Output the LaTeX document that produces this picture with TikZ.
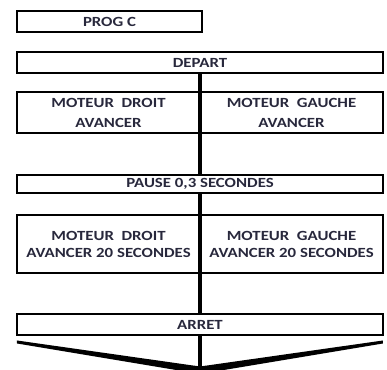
\documentclass[tikz,border=0pt]{standalone}
\usepackage{fontspec}
\newfontfamily\boxfont[FakeStretch=1.2]{Carlito}
\definecolor{txtgray}{RGB}{40,40,60}
\newcommand{\px}{0.75pt}
\tikzset{
  stepbox/.style={draw,line width=1.5pt,rectangle,inner sep=0pt,align=center,
    text=txtgray,font=\boxfont\bfseries\fontsize{10.5}{12.75}\selectfont},
  spine/.style={line width=3.5pt}
}
\begin{document}
\begin{tikzpicture}[x=0.75pt,y=0.75pt,yscale=-1,xscale=1]
\useasboundingbox (0,0) rectangle (387,370);

% title
\node[stepbox,minimum width=185*\px,minimum height=21*\px] (prog) at (109.5,21.5) {PROG C};

% steps
\node[stepbox,minimum width=366*\px,minimum height=21*\px] (depart) at (200,62.5) {DEPART};
\node[stepbox,minimum width=183*\px,minimum height=41*\px,text depth=-4pt] (droit1) at (108.5,112.5) {MOTEUR\ \ DROIT\\[2.2pt]AVANCER};
\node[stepbox,minimum width=183*\px,minimum height=41*\px,text depth=-4pt] (gauche1) at (291.5,112.5) {MOTEUR\ \ GAUCHE\\[2.2pt]AVANCER};
\node[stepbox,minimum width=366*\px,minimum height=18*\px] (pause) at (200,184) {PAUSE 0,3 SECONDES};
\node[stepbox,minimum width=183*\px,minimum height=58*\px] (droit2) at (108.5,244) {MOTEUR\ \ DROIT\\AVANCER 20 SECONDES};
\node[stepbox,minimum width=183*\px,minimum height=58*\px] (gauche2) at (291.5,244) {MOTEUR\ \ GAUCHE\\AVANCER 20 SECONDES};
\node[stepbox,minimum width=366*\px,minimum height=21*\px] (arret) at (200,324.5) {ARRET};

% end of program
\coordinate (fin) at (200,372);
\draw[spine] (depart.south) -- (pause.north);
\draw[spine] (pause.south) -- (arret.north);
\draw[spine] (arret.south) -- (fin);

% closing bar
\fill (17,340.5) -- (200,366.5) -- (200,374) -- (17,343.5) -- cycle;
\fill (383,340.5) -- (200,366.5) -- (200,374) -- (383,343.5) -- cycle;

\end{tikzpicture}
\end{document}
